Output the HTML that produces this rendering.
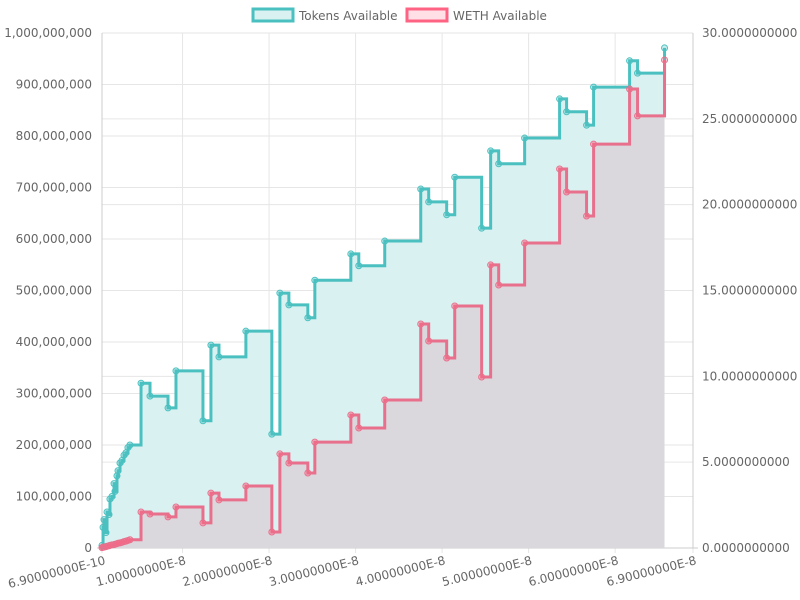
<!DOCTYPE html>
<html><head><meta charset="utf-8"><style>
body{margin:0;background:#fff;}
svg{display:block;font-family:"DejaVu Sans","Liberation Sans",sans-serif;}
</style></head><body>
<svg id="chart" width="800" height="600"></svg>
<script>
const xTickVals=[0.069,1,2,3,4,5,6,6.9];
const xTickLabels=["6.90000000E-10","1.00000000E-8","2.00000000E-8","3.00000000E-8","4.00000000E-8","5.00000000E-8","6.00000000E-8","6.90000000E-8"];
const leftTicks=[0,100,200,300,400,500,600,700,800,900,1000];
const leftTickLabels=["0","100,000,000","200,000,000","300,000,000","400,000,000","500,000,000","600,000,000","700,000,000","800,000,000","900,000,000","1,000,000,000"];
const rightTicks=[0,5,10,15,20,25,30];
const rightTickLabels=["0.0000000000","5.0000000000","10.0000000000","15.0000000000","20.0000000000","25.0000000000","30.0000000000"];
// x in units of 1e-8
const xs=[0.069,0.081,0.092,0.115,0.127,0.150,0.161,0.184,0.208,0.219,0.242,0.254,0.277,0.300,0.323,0.346,0.369,0.392,
0.52,0.624,0.832,0.924,1.236,1.328,1.421,1.732,2.032,2.125,2.229,2.448,2.529,2.945,3.037,3.337,3.753,3.845,4.053,4.146,4.457,4.561,4.654,4.954,5.358,5.439,5.670,5.751,6.167,6.259,6.571];
// tokens in millions
const tokens=[5,40,55,30,70,65,95,100,125,110,140,150,165,170,180,185,195,200,
320,295,272,344,247,394,371,421,221,495,472,447,520,571,548,596,697,672,647,720,621,771,746,796,872,847,821,895,946,922,971];
const weth=[0.02,0.05,0.05,0.08,0.1,0.13,0.15,0.18,0.2,0.22,0.25,0.28,0.3,0.33,0.37,0.4,0.44,0.48,
2.10,1.98,1.81,2.39,1.46,3.20,2.80,3.61,0.93,5.48,4.95,4.37,6.17,7.75,6.99,8.62,13.05,12.06,11.07,14.10,9.96,16.49,15.32,17.77,22.08,20.74,19.34,23.53,26.74,25.17,28.43];

const L=102,R=693,T=33,B=548;
const X=v=>L+(v-0.069)/(6.9-0.069)*(R-L);
const YL=v=>B-v/1000*(B-T);
const YR=v=>B-v/30*(B-T);
const svg=document.getElementById('chart');
const NS='http://www.w3.org/2000/svg';
function el(t,a,p){const e=document.createElementNS(NS,t);for(const k in a)e.setAttribute(k,a[k]);(p||svg).appendChild(e);return e;}

const grid=el('g',{});


leftTicks.forEach(v=>el('line',{x1:L,x2:R,y1:YL(v),y2:YL(v),stroke:'#e6e6e6'},grid));
rightTicks.forEach(v=>el('line',{x1:L,x2:R,y1:YR(v),y2:YR(v),stroke:'#e6e6e6'},grid));
xTickVals.forEach(v=>el('line',{x1:X(v),x2:X(v),y1:T,y2:B+5,stroke:'#e6e6e6'},grid));
el('line',{x1:L,x2:L,y1:T,y2:B,stroke:'#ccc'},grid);
el('line',{x1:R,x2:R,y1:T,y2:B,stroke:'#ccc'},grid);
el('line',{x1:L-5,x2:R+5,y1:B,y2:B,stroke:'#ccc'},grid);

function stepPath(ys,Y){let d='M'+X(xs[0])+','+Y(ys[0]);for(let i=1;i<xs.length;i++){d+=' H'+X(xs[i])+' V'+Y(ys[i]);}return d;}
const tp=stepPath(tokens,YL), wp=stepPath(weth,YR);
const ta=el('path',{d:tp+' V'+B+' H'+X(xs[0])+' Z',fill:'#d9f1f0'});


const wa=el('path',{d:wp+' V'+B+' H'+X(xs[0])+' Z',fill:'#dbd8dd'});


const tl=el('path',{d:tp,fill:'none',stroke:'#4bc0c0','stroke-width':3});


const wl=el('path',{d:wp,fill:'none',stroke:'#e8708c','stroke-width':3});


xs.forEach((x,i)=>{
 const c1=el('circle',{cx:X(x),cy:YL(tokens[i]),r:3,fill:'rgba(75,192,192,0.3)',stroke:'#4bc0c0','stroke-width':1});
 
 
 const c2=el('circle',{cx:X(x),cy:YR(weth[i]),r:3,fill:'rgba(255,99,132,0.3)',stroke:'#e8708c','stroke-width':1});
 
 
});

leftTicks.forEach((v,i)=>{const t=el('text',{x:92,y:YL(v)+4,'text-anchor':'end','font-size':12,fill:'#666'});t.textContent=leftTickLabels[i];

});
rightTicks.forEach((v,i)=>{const t=el('text',{x:702,y:YR(v)+4,'font-size':12,fill:'#666'});t.textContent=rightTickLabels[i];

});
xTickVals.forEach((v,i)=>{const t=el('text',{x:X(v)+4,y:B+16,'text-anchor':'end','font-size':12,fill:'#666',transform:'rotate(-14 '+(X(v)+4)+' '+(B+16)+')'});t.textContent=xTickLabels[i];

});

const lg=el('g',{});


const r1=el('rect',{x:253,y:9,width:40,height:12,fill:'#d9f1f0',stroke:'#4bc0c0','stroke-width':3},lg);


const t1=el('text',{x:299,y:20,'font-size':12,fill:'#666'},lg);t1.textContent='Tokens Available';


const r2=el('rect',{x:407,y:9,width:40,height:12,fill:'#ffe0e6',stroke:'#ff6384','stroke-width':3},lg);


const t2=el('text',{x:453,y:20,'font-size':12,fill:'#666'},lg);t2.textContent='WETH Available';


</script>
</body></html>
